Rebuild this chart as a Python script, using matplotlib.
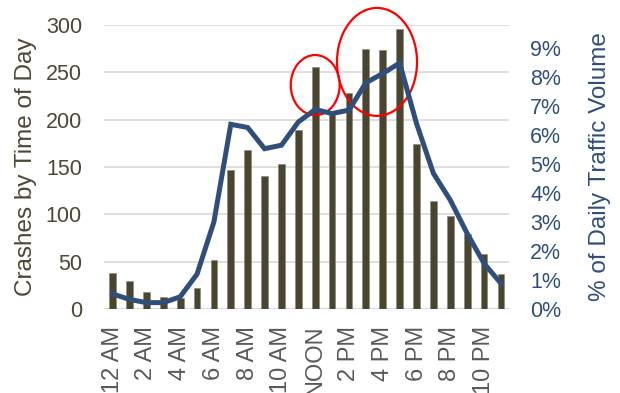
import matplotlib
matplotlib.use("Agg")
import matplotlib.pyplot as plt
from matplotlib.patches import Ellipse
from matplotlib.ticker import FuncFormatter, MultipleLocator

plt.rcParams['font.family'] = ['Liberation Sans', 'DejaVu Sans']

hours = list(range(24))
hour_labels = ["12 AM", "2 AM", "4 AM", "6 AM", "8 AM", "10 AM",
               "NOON", "2 PM", "4 PM", "6 PM", "8 PM", "10 PM"]
crashes = [38, 30, 18, 13, 12, 22, 52, 147, 168, 140, 153, 189,
           256, 206, 228, 275, 274, 296, 174, 114, 98, 79, 58, 37]
traffic_pct = [0.52, 0.33, 0.22, 0.22, 0.42, 1.20, 3.00, 6.36, 6.25, 5.52, 5.64, 6.44,
               6.87, 6.73, 6.85, 7.79, 8.11, 8.47, 6.39, 4.67, 3.75, 2.60, 1.57, 0.88]

bar_color = "#4a4530"
line_color = "#2f4f7a"
left_text = "#4d4632"
grid_color = "#d9d9d9"

fig = plt.figure(figsize=(6.2, 3.93), dpi=100)
ax = fig.add_axes([0.168, 0.2137, 0.6536, 0.7227])
ax2 = ax.twinx()

ax.bar(hours, crashes, width=0.4, color=bar_color, edgecolor="#8a8570",
       linewidth=0.4, zorder=2)
ax.set_xlim(-0.5, 23.5)
ax.set_ylim(0, 300)
ax.yaxis.set_major_locator(MultipleLocator(50))
ax.grid(axis="y", color=grid_color, linewidth=1.2, zorder=0)
ax.set_axisbelow(True)
for s in ax.spines.values():
    s.set_visible(False)
ax.axhline(0, color=grid_color, linewidth=1.5, zorder=1)

ax.set_xticks(hours[::2])
ax.set_xticklabels(hour_labels, rotation=90, va="top", ha="center")
ax.tick_params(axis="x", length=0, pad=12, labelsize=17, labelcolor="#595959")
ax.tick_params(axis="y", length=0, pad=16, labelsize=15.5, labelcolor=left_text)
ax.set_ylabel("Crashes by Time of Day", fontsize=17.5, color=left_text, labelpad=6)

ax2.plot(hours, traffic_pct, color=line_color, linewidth=3.6,
         solid_joinstyle="miter", zorder=3)
ax2.set_ylim(0, 9.78)
ax2.set_yticks(range(10))
ax2.yaxis.set_major_formatter(FuncFormatter(lambda v, p: f"{int(round(v))}%"))
ax2.tick_params(axis="y", length=0, pad=15, labelsize=15.5, labelcolor=line_color)
for s in ax2.spines.values():
    s.set_visible(False)
ax2.set_ylabel("% of Daily Traffic Volume", fontsize=17.5, color=line_color, labelpad=20)

# highlight the midday and afternoon crash peaks
for cx, cy, w, h in [(12.0, 236.5, 2.9, 63.5), (15.66, 261.0, 4.74, 114.0)]:
    ax.add_patch(Ellipse((cx, cy), w, h, fill=False, edgecolor="#ff0000",
                         linewidth=1.6, clip_on=False, zorder=5))

fig.savefig("out.png", dpi=100)
